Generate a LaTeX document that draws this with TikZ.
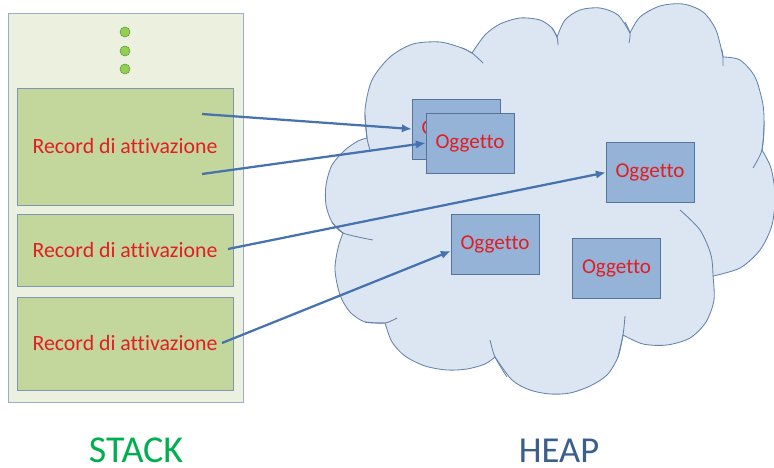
\documentclass[tikz,border=0pt]{standalone}
\usepackage{fontspec}
\setmainfont{Carlito}[Ligatures=NoCommon]
\usetikzlibrary{arrows.meta}

\definecolor{stackbg}{RGB}{235,241,222}
\definecolor{stackline}{RGB}{150,175,205}
\definecolor{recfill}{RGB}{195,214,155}
\definecolor{recline}{RGB}{125,150,180}
\definecolor{dotfill}{RGB}{146,208,80}
\definecolor{dotline}{RGB}{100,150,70}
\definecolor{cloudfill}{RGB}{220,230,242}
\definecolor{cloudline}{RGB}{100,130,170}
\definecolor{objfill}{RGB}{149,179,215}
\definecolor{objline}{RGB}{85,115,155}
\definecolor{objred}{RGB}{225,30,35}
\definecolor{ptrblue}{RGB}{70,115,175}
\definecolor{stackgreen}{RGB}{0,176,80}
\definecolor{heapblue}{RGB}{59,94,140}

\tikzset{
  record/.style={draw=recline, fill=recfill, minimum width=5.4cm, inner sep=0pt,
    text=objred, font=\fontsize{15.5}{18}\selectfont},
  oggetto/.style={draw=objline, fill=objfill, minimum width=2.2cm, minimum height=1.5cm,
    inner sep=0pt, text=objred, font=\fontsize{15}{18}\selectfont},
  stackdot/.style={circle, draw=dotline, fill=dotfill, minimum size=0.25cm, inner sep=0pt},
  ptr/.style={draw=ptrblue, line width=1.6pt, -{Latex[length=7pt,width=6pt]}},
  title/.style={inner sep=0pt, anchor=base, font=\fontsize{26}{30}\selectfont},
  puffline/.style={draw=cloudline, line width=0.6pt}
}

\begin{document}
\begin{tikzpicture}[x=0.025cm, y=-0.025cm]
\useasboundingbox (0,0) rectangle (774,467);

% Stack
\node[draw=stackline, fill=stackbg, minimum width=5.875cm, minimum height=9.725cm, inner sep=0pt] (stack) at (125.5,207.5) {};
\node[stackdot] (dot1) at (125,32) {};
\node[stackdot] (dot2) at (125,51) {};
\node[stackdot] (dot3) at (125,69) {};
\node[record, minimum height=2.925cm] (rec1) at (125,146.5) {Record di attivazione};
\node[record, minimum height=1.8cm] (rec2) at (125,250) {Record di attivazione};
\node[record, minimum height=2.325cm] (rec3) at (125,343.5) {Record di attivazione};

% Heap (cloud)
\path[puffline, fill=cloudfill]
  plot[smooth] coordinates {(367,138) (365,110) (372,80) (390,57) (413,44) (440,42) (462,48) (472,53)}
  -- plot[smooth] coordinates {(472,53) (485,35) (500,24) (520,18) (540,20) (552,28) (557,37)}
  -- plot[smooth] coordinates {(557,37) (565,20) (580,10) (600,8) (618,15) (630,33)}
  -- plot[smooth] coordinates {(630,33) (640,17) (660,6) (683,4) (703,12) (716,30) (723,57)}
  -- plot[smooth] coordinates {(723,57) (740,60) (755,77) (763,105) (764,130) (762,150)}
  -- plot[smooth] coordinates {(762,150) (771,168) (775,195) (772,225) (760,250) (740,268) (713,276)}
  -- plot[smooth] coordinates {(713,276) (714,300) (706,322) (690,338) (667,345) (643,344) (623,335)}
  -- plot[smooth] coordinates {(623,335) (618,357) (607,375) (590,386) (570,393) (550,394) (530,390) (512,380) (495,357)}
  -- plot[smooth] coordinates {(495,357) (485,364) (467,369) (447,370) (425,366) (405,356) (392,342) (385,323)}
  -- plot[smooth] coordinates {(385,323) (365,322) (350,312) (340,295) (335,270) (338,248) (343,233)}
  -- plot[smooth] coordinates {(343,233) (332,222) (326,205) (326,185) (332,165) (345,150) (358,141) (367,138)}
  -- cycle;
% inner arcs of the cloud
\draw[puffline] plot[smooth] coordinates {(365,115) (367,138) (370,150)};
\draw[puffline] plot[smooth] coordinates {(462,48) (472,53) (483,63)};
\draw[puffline] plot[smooth] coordinates {(552,28) (557,37) (558,45)};
\draw[puffline] plot[smooth] coordinates {(625,22) (630,33) (629,43)};
\draw[puffline] plot[smooth] coordinates {(722,50) (723,57) (723,66)};
\draw[puffline] plot[smooth] coordinates {(764,125) (762,150) (753,168)};
\draw[puffline] plot[smooth] coordinates {(680,210) (700,230) (711,255) (713,276)};
\draw[puffline] plot[smooth] coordinates {(625,316) (623,335) (618,357)};
\draw[puffline] plot[smooth] coordinates {(507,377) (495,357) (490,340)};
\draw[puffline] plot[smooth] coordinates {(365,322) (385,323) (397,318)};
\draw[puffline] plot[smooth] coordinates {(332,222) (343,233) (373,240)};

% Oggetti
\node[oggetto] (obj1) at (456,129) {Oggetto};
\node[oggetto] (obj2) at (470,143) {Oggetto};
\node[oggetto] (obj3) at (650,172.5) {Oggetto};
\node[oggetto] (obj4) at (495,244) {Oggetto};
\node[oggetto] (obj5) at (616.5,268.5) {Oggetto};

% References from the stack
\coordinate (ref1) at (202,114);
\coordinate (ref2) at (202,174);
\coordinate (ref3) at (228,249);
\coordinate (ref4) at (222,343);
\draw[ptr] (ref1) -- (obj1.west);
\draw[ptr] (ref2) -- (obj2.west);
\draw[ptr] (ref3) -- (obj3.west);
\draw[ptr] (ref4) -- ([yshift=-5pt]obj4.west);

% Labels
\node[title, text=stackgreen, font=\fontsize{27}{32}\selectfont] (stacklabel) at (136,462) {STACK};
\node[title, text=heapblue] (heaplabel) at (559,462) {HEAP};

\end{tikzpicture}
\end{document}
